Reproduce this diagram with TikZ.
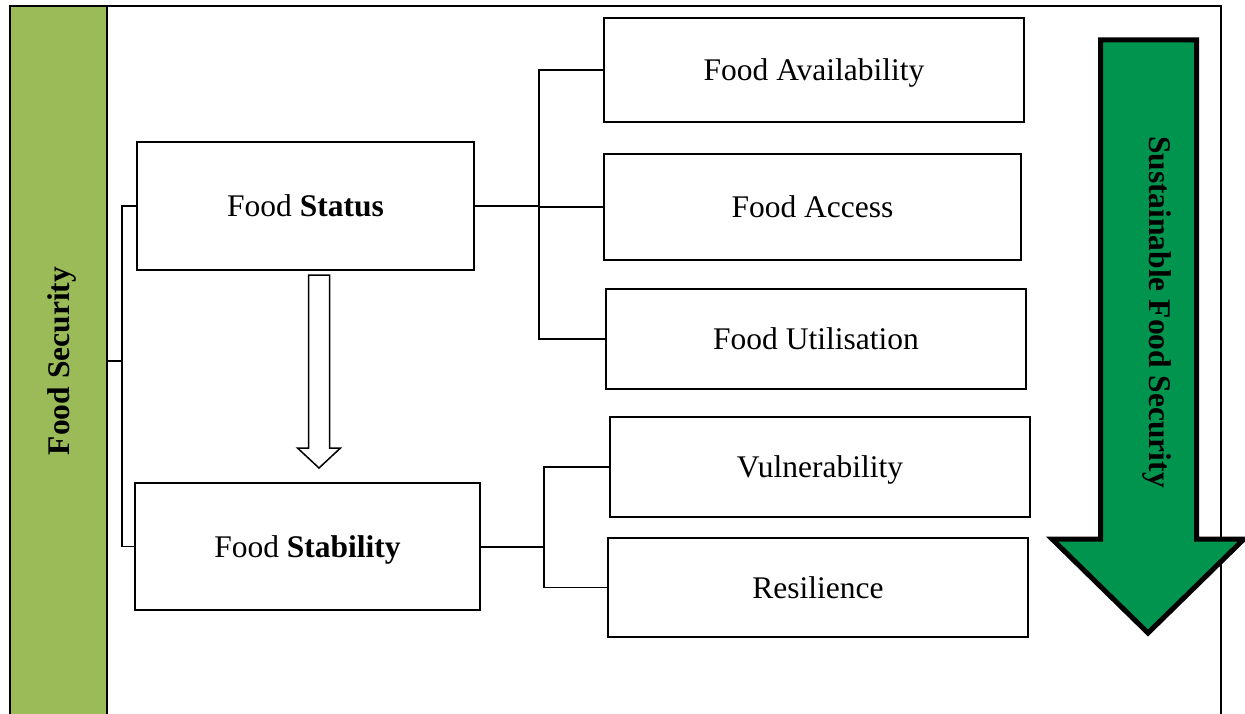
\documentclass[tikz,border=0pt]{standalone}
\usepackage{fontspec}
\setmainfont{Liberation Serif}
\usetikzlibrary{arrows, arrows.meta}
\usetikzlibrary{calc}
\definecolor{barGreen}{HTML}{9BBB59}
\definecolor{arrowGreen}{HTML}{00944F}

\begin{document}
\begin{tikzpicture}[x=1pt, y=-1pt, font=\fontsize{31.5}{36}\selectfont]
      \clip (0, 0) rectangle (1245, 714);
      \fill[white] (0, 0) rectangle (1245, 714);

      \draw[line width=1.5] (10, 6) -- (1221, 6) -- (1221, 730);
      \node[draw, fill=barGreen, line width=2, inner sep=0pt, minimum width=97, minimum height=722] (fsec) at (58.5, 367) {};
      \node[rotate=90, font=\fontsize{31.5}{36}\selectfont\bfseries] (fseclabel) at (62, 361) {Food Security};

      \node[draw, line width=2, inner sep=0pt, text height=21pt, text depth=0pt, minimum width=337, minimum height=128] (status) at (305.5, 206) {Food \textbf{Status}};
      \node[draw, line width=2, inner sep=0pt, text height=21pt, text depth=0pt, minimum width=345, minimum height=127] (stability) at (307.5, 546.5) {Food \textbf{Stability}};
      \node[draw, line width=2, inner sep=0pt, text height=21pt, text depth=0pt, minimum width=420, minimum height=104] (avail) at (814, 70) {Food Availability};
      \node[draw, line width=2, inner sep=0pt, text height=21pt, text depth=0pt, minimum width=417, minimum height=106] (access) at (812.5, 207) {Food Access};
      \node[draw, line width=2, inner sep=0pt, text height=21pt, text depth=0pt, minimum width=420, minimum height=100] (util) at (816, 339) {Food Utilisation};
      \node[draw, line width=2, inner sep=0pt, text height=21pt, text depth=0pt, minimum width=420, minimum height=100] (vuln) at (820, 467) {Vulnerability};
      \node[draw, line width=2, inner sep=0pt, text height=21pt, text depth=0pt, minimum width=420, minimum height=99] (resil) at (818, 587.5) {Resilience};

      \coordinate (j0) at (122, 361);
      \coordinate (j1) at (539, 206);
      \coordinate (j2) at (544, 547);

      \draw[line width=1.5] (fsec.east |- j0) -- (j0) |- (status.west);
      \draw[line width=1.5] (j0) |- (stability.west);
      \draw[line width=1.5] (status.east) -- (j1) |- (avail.west);
      \draw[line width=1.5] (j1) |- (access.west);
      \draw[line width=1.5] (j1) |- (util.west);
      \draw[line width=1.5] (stability.east |- j2) -- (j2) |- (vuln.west);
      \draw[line width=1.5] (j2) |- (resil.west);

      \draw[line width=1.5, fill=white] (308.5, 275) -- (329.5, 275) -- (329.5, 448) -- (340.5, 448) -- (319, 468) -- (297.5, 448) -- (308.5, 448) -- cycle;

      \draw[line width=5, fill=arrowGreen, line join=miter] (1100.5, 40) -- (1196.5, 40) -- (1196.5, 539) -- (1244, 539) -- (1148, 633) -- (1052, 539) -- (1100.5, 539) -- cycle;
      \node[rotate=-90, font=\fontsize{31.5}{36}\selectfont\bfseries] (sfslabel) at (1157, 312) {Sustainable Food Security};
\end{tikzpicture}
\end{document}
